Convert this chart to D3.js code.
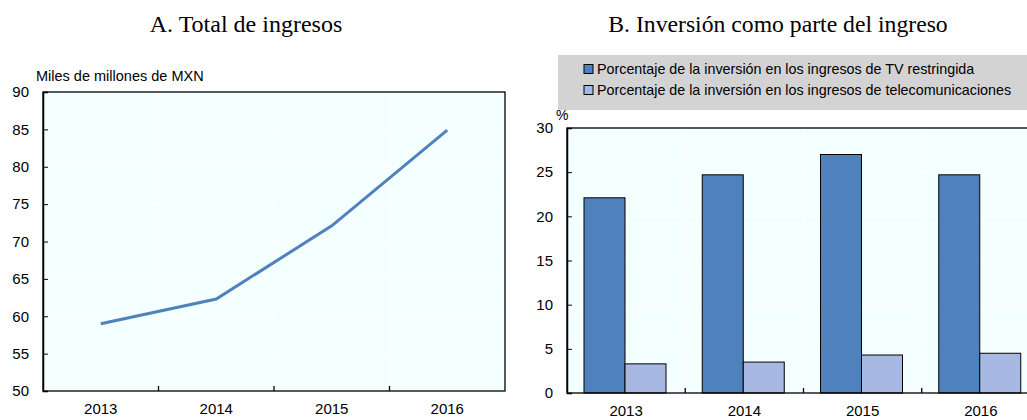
<!DOCTYPE html>
<html><head><meta charset="utf-8">
<script src="https://cdn.jsdelivr.net/npm/d3@7"></script>
<style>body{margin:0;background:#fff}svg{display:block}</style>
</head><body>
<script>
const years = ["2013","2014","2015","2016"];
const ingresos = [59.0, 62.3, 72.1, 84.9];
const invTV = [22.1, 24.7, 27.0, 24.7];
const invTel = [3.3, 3.5, 4.3, 4.5];
const yTicksA = [50,55,60,65,70,75,80,85,90];
const yTicksB = [0,5,10,15,20,25,30];
const seriesNames = ["Porcentaje de la inversión en los ingresos de TV restringida","Porcentaje de la inversión en los ingresos de telecomunicaciones"];

const W=1027,H=420;
const svg=d3.select("body").append("svg").attr("width",W).attr("height",H);
const font="Liberation Sans, Arial, sans-serif";
const bg="#F4FFFF", dark="#4F81BD", light="#A7B9E3";

// Titles
svg.append("text").attr("x",246).attr("y",32).attr("text-anchor","middle")
  .attr("font-family","Liberation Serif, Times New Roman, serif").attr("font-size",24).text("A. Total de ingresos");
svg.append("text").attr("x",778).attr("y",32).attr("text-anchor","middle")
  .attr("font-family","Liberation Serif, Times New Roman, serif").attr("font-size",23.7).text("B. Inversión como parte del ingreso");

// Panel A
const A={l:43,r:505,t:92,b:391};
const xA=d3.scaleBand().domain(years).range([A.l,A.r]);
const yA=d3.scaleLinear().domain([50,90]).range([A.b,A.t]);
const gA=svg.append("g");
gA.append("rect").attr("x",A.l).attr("y",A.t).attr("width",A.r-A.l).attr("height",A.b-A.t).attr("fill",bg);
gA.selectAll(".hg").data(yTicksA).join("line").attr("x1",A.l).attr("x2",A.r).attr("y1",d=>yA(d)).attr("y2",d=>yA(d)).attr("stroke","#fff").attr("stroke-width",1);
gA.selectAll(".vg").data(years.slice(1)).join("line").attr("x1",d=>xA(d)).attr("x2",d=>xA(d)).attr("y1",A.t).attr("y2",A.b).attr("stroke","#fff");
gA.append("path").datum(ingresos).attr("fill","none").attr("stroke",dark).attr("stroke-width",3)
  .attr("d",d3.line().x((d,i)=>xA(years[i])+xA.bandwidth()/2).y(d=>yA(d)));
gA.append("rect").attr("x",A.l).attr("y",A.t).attr("width",A.r-A.l).attr("height",A.b-A.t).attr("fill","none").attr("stroke","#000").attr("stroke-width",1.3);
const axAy=gA.append("g").attr("transform",`translate(${A.l},0)`).call(d3.axisLeft(yA).tickValues(yTicksA).tickSize(-5).tickPadding(14));
axAy.select(".domain").attr("stroke","#000").attr("stroke-width",1.5);
axAy.selectAll("text").attr("font-family",font).attr("font-size",15).attr("fill","#000");
gA.selectAll(".bt").data(years.slice(1)).join("line").attr("x1",d=>xA(d)).attr("x2",d=>xA(d)).attr("y1",A.b).attr("y2",A.b-5).attr("stroke","#000").attr("stroke-width",1.3);
gA.selectAll(".xl").data(years).join("text").attr("x",d=>xA(d)+xA.bandwidth()/2).attr("y",A.b+23).attr("text-anchor","middle").attr("font-family",font).attr("font-size",15).text(d=>d);
svg.append("text").attr("x",36).attr("y",81).attr("font-family",font).attr("font-size",14.5).text("Miles de millones de MXN");

// Panel B
const B={l:567,r:1040,t:128,b:393};
const xB=d3.scaleBand().domain(years).range([B.l,B.r]);
const xB2=d3.scaleBand().domain([0,1]).range([17,17+82]);
const yB=d3.scaleLinear().domain([0,30]).range([B.b,B.t]);
const gB=svg.append("g");
gB.append("rect").attr("x",B.l).attr("y",B.t).attr("width",B.r-B.l).attr("height",B.b-B.t).attr("fill",bg);
gB.selectAll(".hg").data(yTicksB).join("line").attr("x1",B.l).attr("x2",B.r).attr("y1",d=>yB(d)).attr("y2",d=>yB(d)).attr("stroke","#fff");
gB.selectAll(".vg").data(years.slice(1)).join("line").attr("x1",d=>xB(d)).attr("x2",d=>xB(d)).attr("y1",B.t).attr("y2",B.b).attr("stroke","#fff");
const series=[invTV,invTel], cols=[dark,light];
series.forEach((s,k)=>{
  gB.selectAll(".bar"+k).data(s).join("rect")
    .attr("x",(d,i)=>xB(years[i])+xB2(k)).attr("width",xB2.bandwidth())
    .attr("y",d=>yB(d)).attr("height",d=>B.b-yB(d))
    .attr("fill",cols[k]).attr("stroke","#000").attr("stroke-width",1);
});
gB.append("rect").attr("x",B.l).attr("y",B.t).attr("width",B.r-B.l).attr("height",B.b-B.t).attr("fill","none").attr("stroke","#000").attr("stroke-width",1.3);
const axBy=gB.append("g").attr("transform",`translate(${B.l},0)`).call(d3.axisLeft(yB).tickValues(yTicksB).tickSize(-5).tickPadding(14));
axBy.select(".domain").attr("stroke","#000").attr("stroke-width",1.5);
axBy.selectAll("text").attr("font-family",font).attr("font-size",15).attr("fill","#000");
gB.selectAll(".bt").data(years.slice(1)).join("line").attr("x1",d=>xB(d)).attr("x2",d=>xB(d)).attr("y1",B.b).attr("y2",B.b-5).attr("stroke","#000").attr("stroke-width",1.3);
gB.selectAll(".xl").data(years).join("text").attr("x",d=>xB(d)+xB.bandwidth()/2).attr("y",B.b+23).attr("text-anchor","middle").attr("font-family",font).attr("font-size",15).text(d=>d);
svg.append("text").attr("x",556).attr("y",120).attr("font-family",font).attr("font-size",14).text("%");

// Legend
const lg=svg.append("g");
lg.append("rect").attr("x",558).attr("y",55).attr("width",480).attr("height",55).attr("fill","#D3D3D3");
seriesNames.forEach((n,k)=>{
  const cy=69+k*21;
  lg.append("rect").attr("x",584).attr("y",cy-4.5).attr("width",9).attr("height",9).attr("fill",cols[k]).attr("stroke","#000").attr("stroke-width",1);
  lg.append("text").attr("x",597).attr("y",cy+5).attr("font-family",font).attr("font-size",14.3).text(n);
});
</script>
</body></html>
